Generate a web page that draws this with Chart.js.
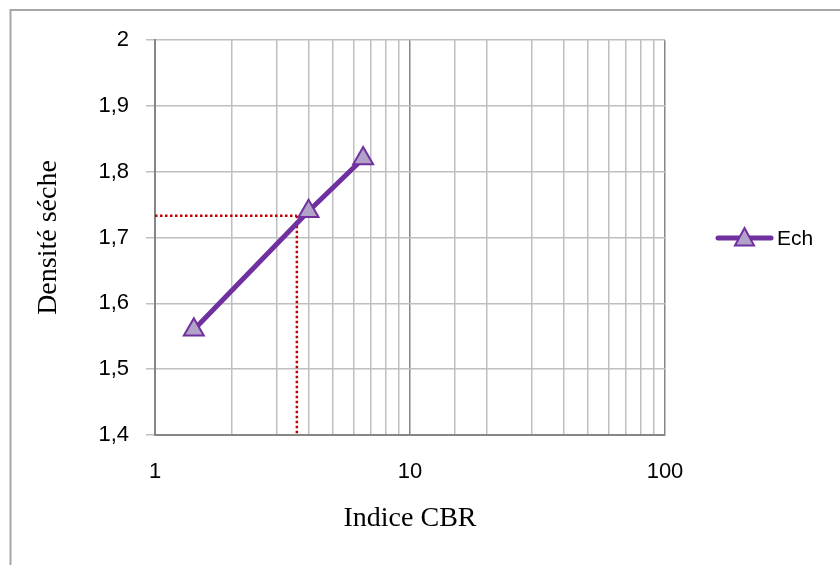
<!DOCTYPE html>
<html>
<head>
<meta charset="utf-8">
<title>Densité séche / Indice CBR</title>
<script src="https://cdn.jsdelivr.net/npm/chart.js@4/dist/chart.umd.min.js"></script>
<style>
  html, body { margin: 0; padding: 0; background: #fff; }
  canvas { display: block; }
</style>
</head>
<body>
<canvas id="cbr-chart" width="840" height="565"></canvas>
<script>
// values
const seriesName = "Ech";
const cbrValues = [1.42, 4.0, 6.55];
const densityValues = [1.56, 1.74, 1.82];

// red dotted reading lines (CBR at density 1,733)
const readX = [1, 3.6, 3.6];
const readY = [1.733, 1.733, 1.4];

const yTicks = [1.4, 1.5, 1.6, 1.7, 1.8, 1.9, 2];
const xLabels = [1, 10, 100];

const purple = "#7030a0";
const lavender = "#b3a2c7";
const gridGrey = "#bfbfbf";
const axisGrey = "#868686";
const tickFont = { family: "'Liberation Sans', Arial, sans-serif", size: 22 };
const titleFont = { family: "'Liberation Serif', 'Times New Roman', serif", size: 28 };

const mainPoints = cbrValues.map((x, i) => ({ x, y: densityValues[i] }));
const hLine = [{ x: readX[0], y: readY[0] }, { x: readX[1], y: readY[1] }];
const vLine = [{ x: readX[1], y: readY[1] }, { x: readX[2], y: readY[2] }];

// frame around the chart + legend drawn at the right
const framePlugin = {
  id: "frame",
  beforeDraw(chart) {
    const ctx = chart.ctx;
    ctx.save();
    ctx.fillStyle = "#fff";
    ctx.fillRect(0, 0, chart.width, chart.height);
    ctx.strokeStyle = "#a6a6a6";
    ctx.lineWidth = 2;
    ctx.strokeRect(10.5, 10, 900, 700);
    ctx.restore();
  },
  afterDraw(chart) {
    const ctx = chart.ctx;
    const y = 238;
    ctx.save();
    ctx.strokeStyle = purple;
    ctx.lineWidth = 5;
    ctx.lineCap = "round";
    ctx.beginPath();
    ctx.moveTo(718, y);
    ctx.lineTo(771, y);
    ctx.stroke();
    // triangle marker
    const r = 11;
    const cx = 744.5;
    const cy = y + 1;
    ctx.beginPath();
    ctx.moveTo(cx, cy - r);
    ctx.lineTo(cx + r * 0.866, cy + r * 0.5 + 1);
    ctx.lineTo(cx - r * 0.866, cy + r * 0.5 + 1);
    ctx.closePath();
    ctx.fillStyle = lavender;
    ctx.fill();
    ctx.lineWidth = 2;
    ctx.lineJoin = "miter";
    ctx.stroke();
    ctx.fillStyle = "#000";
    ctx.font = "21px 'Liberation Sans', Arial, sans-serif";
    ctx.textBaseline = "middle";
    ctx.fillText(seriesName, 777, y + 1);
    ctx.restore();
  },
};

new Chart(document.getElementById("cbr-chart"), {
  type: "line",
  data: {
    datasets: [
      {
        label: seriesName,
        data: mainPoints,
        borderColor: purple,
        borderWidth: 5,
        pointStyle: "triangle",
        pointRadius: 11.5,
        pointBackgroundColor: lavender,
        pointBorderColor: purple,
        pointBorderWidth: 2,
        tension: 0,
        order: 0,
      },
      {
        label: "lecture horizontale",
        data: hLine,
        borderColor: "#c00000",
        borderWidth: 2.5,
        borderDash: [2.5, 2.5],
        pointRadius: 0,
        order: 1,
      },
      {
        label: "lecture verticale",
        data: vLine,
        borderColor: "#c00000",
        borderWidth: 2.5,
        borderDash: [2.5, 2.5],
        pointRadius: 0,
        order: 1,
      },
    ],
  },
  options: {
    responsive: false,
    animation: false,
    devicePixelRatio: 1,
    layout: { padding: { top: 40, right: 175, bottom: 0, left: 0 } },
    plugins: {
      legend: { display: false },
      tooltip: { enabled: false },
    },
    scales: {
      x: {
        type: "logarithmic",
        min: 1,
        max: 100,
        afterFit: (scale) => { scale.height = 130; },
        border: { color: axisGrey, width: 2 },
        grid: {
          color: (c) => (c.tick && xLabels.includes(c.tick.value) ? axisGrey : gridGrey),
          lineWidth: 1.5,
          drawTicks: false,
        },
        ticks: {
          autoSkip: false,
          maxRotation: 0,
          padding: 24,
          color: "#000",
          font: tickFont,
          callback: (v) => (xLabels.includes(v) ? String(v) : ""),
        },
        title: {
          display: true,
          text: "Indice CBR",
          color: "#000",
          font: titleFont,
          padding: { top: 0, bottom: 30 },
        },
      },
      y: {
        min: 1.4,
        max: 2,
        afterFit: (scale) => { scale.width = 155; },
        afterBuildTicks: (scale) => { scale.ticks = yTicks.map((v) => ({ value: v })); },
        border: { color: axisGrey, width: 2 },
        grid: {
          color: gridGrey,
          lineWidth: 1.5,
          tickLength: 9,
        },
        ticks: {
          padding: 17,
          color: "#000",
          font: tickFont,
          callback: (v) => String(Math.round(v * 10) / 10).replace(".", ","),
        },
        title: {
          display: true,
          text: "Densité séche",
          color: "#000",
          font: titleFont,
          padding: { top: 32, bottom: 0 },
        },
      },
    },
  },
  plugins: [framePlugin],
});
</script>
</body>
</html>
